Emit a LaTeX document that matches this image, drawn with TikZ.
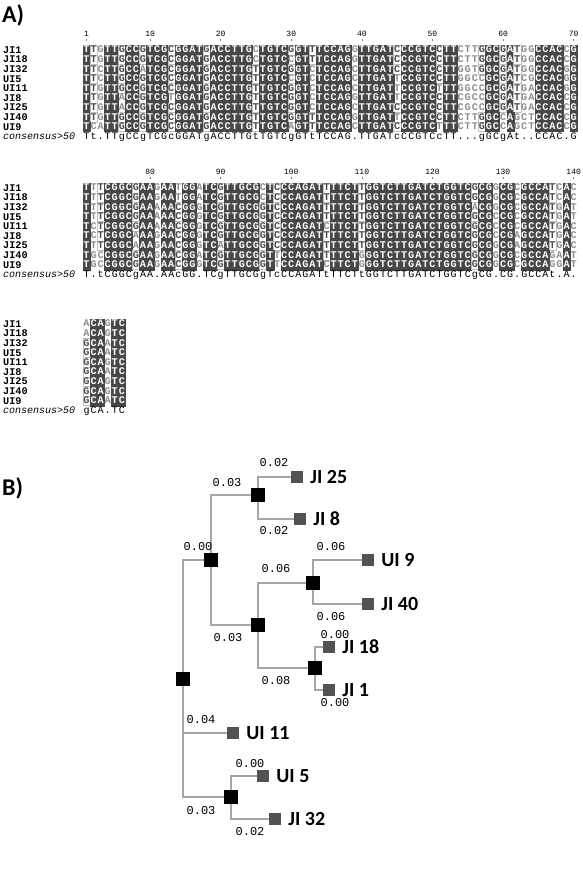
\documentclass[tikz,border=0pt]{standalone}
\usepackage{fontspec}
\setmainfont{Carlito}
\setmonofont{Liberation Mono}
\usetikzlibrary{positioning}

\newcommand{\cellfont}{\ttfamily\bfseries\fontsize{10.2}{10}\selectfont}
\newcount\colno
\def\xzero{83}
\def\cellw{7.06}

% one residue per cell, shaded against the consensus
\def\seqcells#1;#2#3\relax#4#5\relax{%
  \global\advance\colno by 1
  \uppercase{\def\consup{#4}}\def\consorig{#4}\def\resid{#2}%
  \ifx\resid\consup
    \ifx\consup\consorig\def\cellstyle{cellhi}\else\def\cellstyle{celllo}\fi
  \else\def\cellstyle{cellno}\fi
  \edef\next{\noexpand\node[\cellstyle] (c#1-\the\colno) at ({\xzero+(\the\colno-0.5)*\cellw},#1) {#2};}\next
  \ifx\relax#3\relax\else\seqcells#1;#3\relax#5\relax\fi}

\def\conscells#1;#2#3\relax{%
  \global\advance\colno by 1
  \edef\next{\noexpand\node[conschar] (k#1-\the\colno) at ({\xzero+(\the\colno-0.5)*\cellw},#1) {#2};}\next
  \ifx\relax#3\relax\else\conscells#1;#3\relax\fi}

\newcommand{\seqrow}[4]{%
  \node[rowname] (n#2-#1) at (3,#1) {#2};
  \global\colno=0
  \edef\next{\noexpand\seqcells#1;#3\relax#4\relax}\next}

\newcommand{\consrow}[2]{%
  \node[consname] (cons-#1) at (3,#1) {consensus>50};
  \global\colno=0
  \conscells#1;#2\relax}

\def\consA{Tt.TTgCCgTCGcGGATgACCTTGtTGTCgGTtTCCAG.TTGATcCCGTCcTT...gGCgAt..CCAC.G}
\def\consB{T.tCGGCgAA.AAcGG.TCgTTGCGgTcCCAGATtTTCTtGGTCTTGATCTGGTCgCG.CG.GCCAt.A.}
\def\consC{gCA.TC}

\begin{document}
\begin{tikzpicture}[x=1pt,y=-1pt,
  cellbase/.style={minimum width=7.06pt,minimum height=9.6pt,inner sep=0pt,
    text height=6.4pt,text depth=0.6pt,font=\cellfont},
  cellhi/.style={cellbase,fill=black!72,draw=black!72,line width=0.2pt,text=white},
  celllo/.style={cellbase,fill=white,draw=black!25,line width=0.4pt,text=black!70},
  cellno/.style={cellbase,text=black!45},
  conschar/.style={minimum width=7.06pt,minimum height=9.6pt,inner sep=0pt,
    text height=6.4pt,text depth=0.6pt,font=\ttfamily\fontsize{10}{10}\selectfont},
  rowname/.style={anchor=west,inner sep=0pt,font=\ttfamily\bfseries\fontsize{10.2}{10}\selectfont},
  consname/.style={anchor=west,inner sep=0pt,font=\ttfamily\itshape\fontsize{10}{10}\selectfont},
  colnum/.style={inner sep=0pt,font=\ttfamily\fontsize{8}{8}\selectfont},
  panel/.style={anchor=west,inner sep=0pt,font=\bfseries\fontsize{24}{24}\selectfont},
  innode/.style={fill=black,minimum size=14pt,inner sep=0pt},
  leafnode/.style={fill=black!68,minimum size=12pt,inner sep=0pt},
  branch/.style={draw=black!35,line width=2.8pt},
  blen/.style={inner sep=0pt,font=\ttfamily\fontsize{12}{12}\selectfont},
  taxon/.style={inner sep=0pt,font=\bfseries\fontsize{20}{20}\selectfont}]

\useasboundingbox (0,0) rectangle (582,869);

% A) alignment
\node[panel] (pA) at (2,15) {A)};

% block 1
\foreach \n/\c in {1/1,10/10,20/20,30/30,40/40,50/50,60/60,70/70}{
  \node[colnum] (h\n) at ({\xzero+(\c-0.5)*\cellw},34) {\n};
  \draw[black!50] (h\n.south) ++(0,2) -- ++(0,2);
}
\seqrow{50}{JI1}{TTGTTGCCGTCGCGGATGACCTTGCTGTCGGTTTCCAGGTTGATCCCGTCCTTCTTGGCGATGGCCACCG}{\consA}
\seqrow{59.6}{JI18}{TTGTTGCCGTCGCGGATGACCTTGCTGTCCGTTTCCAGGTTGATCCCGTCCTTCTTGGCGATGGCCACCG}{\consA}
\seqrow{69.2}{JI32}{TTCTTGCCATCGCGGATGACCTTGTTGTCGGTCTCCAGCTTGATCCCGTCCTTGGTGGCGATGGCCACGG}{\consA}
\seqrow{78.8}{UI5}{TTCTTGCCGTCGCGGATGACCTTGTTGTCCGTCTCCAGCTTGATTCCGTCCTTGGCCGCGATCGCCACGG}{\consA}
\seqrow{88.4}{UI11}{TTGTTGCCGTCGCGGATGACCTTGTTGTCGGTCTCCAGCTTGATTCCGTCTTTGGCCGCGATGACCACGG}{\consA}
\seqrow{98}{JI8}{TTGTTACCGTCGTGGATGACCTTGTTGTCGGTCTCCAGGTTGATTCCGTCCTTCGCCGCGATGACCACCG}{\consA}
\seqrow{107.6}{JI25}{TTGTTACCGTCGCGGATGACCTTGTTGTCGGTCTCCAGCTTGATCCCGTCCTTCGCCGCGATGACCACCG}{\consA}
\seqrow{117.2}{JI40}{TTGTTGCCGTCGCGGATGACCTTGTTGTCGGTTTCCAGGTTGATTCCGTCCTTCTTGGCCAGCTCCACCG}{\consA}
\seqrow{126.8}{UI9}{TCATTGCCGTCGCGGATGACCTTGTTGTCAGTTTCCAGCTTGATCCCGTCTTTCTTGGCCAGCTCCACCG}{\consA}
\consrow{136.4}{Tt.TTgCCgTCGcGGATgACCTTGtTGTCgGTtTCCAG.TTGATcCCGTCcTT...gGCgAt..CCAC.G}

% block 2
\foreach \n/\c in {80/10,90/20,100/30,110/40,120/50,130/60,140/70}{
  \node[colnum] (h\n) at ({\xzero+(\c-0.5)*\cellw},172) {\n};
  \draw[black!50] (h\n.south) ++(0,2) -- ++(0,2);
}
\seqrow{188}{JI1}{TTTCGGCGAAGAATGGATCGTTGCGCTCCCAGATTTTCTTGGTCTTGATCTGGTCGCGGCGCGCCATCAC}{\consB}
\seqrow{197.6}{JI18}{TTTCGGCGAAGAATGGATCGTTGCGCTCCCAGATTTTCTTGGTCTTGATCTGGTCGCGGCGCGCCATCAC}{\consB}
\seqrow{207.2}{JI32}{TTTCGGCGAAAAACGGGTCGTTGCGGTCCCAGATTTTCTTGGTCTTGATCTGGTCACGGCGCGCCATGAT}{\consB}
\seqrow{216.8}{UI5}{TTTCGGCGAAAAACGGGTCGTTGCGGTCCCAGATTTTCTTGGTCTTGATCTGGTCGCGCCGCGCCATGAT}{\consB}
\seqrow{226.4}{UI11}{TCTCGGCGAAAAACGGGTCGTTGCGGTCCCAGATCTTCTTGGTCTTGATCTGGTCGCGCCGCGCCATGAC}{\consB}
\seqrow{236}{JI8}{TCTCGGCAAAGAACGGGTCGTTGCGGTCCCAGATTTTCTTGGTCTTGATCTGGTCGCGCCGAGCCATGAC}{\consB}
\seqrow{245.6}{JI25}{TTTCGGCAAAGAACGGGTCATTGCGGTCCCAGATTTTCTTGGTCTTGATCTGGTCGCGGCGAGCCATGAC}{\consB}
\seqrow{255.2}{JI40}{TGCCGGCGAAGAACGGATCGTTGCGGTTCCAGATTTTCTGGGTCTTGATCTGGTCGCGGCGCGCCAGAAT}{\consB}
\seqrow{264.8}{UI9}{TGCCGGCGAAGAACGGGTCGTTGCGGTTCCAGATCTTCTGGGTCTTGATCTGGTCGCGGCGCGCCAGGAT}{\consB}
\consrow{274.4}{T.tCGGCgAA.AAcGG.TCgTTGCGgTcCCAGATtTTCTtGGTCTTGATCTGGTCgCG.CG.GCCAt.A.}

% block 3
\seqrow{324}{JI1}{ACAGTC}{\consC}
\seqrow{333.6}{JI18}{ACAGTC}{\consC}
\seqrow{343.2}{JI32}{GCAATC}{\consC}
\seqrow{352.8}{UI5}{GCAATC}{\consC}
\seqrow{362.4}{UI11}{GCAGTC}{\consC}
\seqrow{372}{JI8}{GCAATC}{\consC}
\seqrow{381.6}{JI25}{GCAGTC}{\consC}
\seqrow{391.2}{JI40}{GCAGTC}{\consC}
\seqrow{400.8}{UI9}{GCAATC}{\consC}
\consrow{410.4}{gCA.TC}

% B) tree
\node[panel] (pB) at (2,488) {B)};

\node[innode] (root) at (183,679) {};
\node[innode] (nA) at (211,560) {};
\node[innode] (nB) at (258,495) {};
\node[innode] (nC) at (258,625) {};
\node[innode] (nD) at (313,583) {};
\node[innode] (nE) at (315,668) {};
\node[innode] (nF) at (231,797) {};

\node[leafnode] (ji25) at (297,477) {};
\node[leafnode] (ji8) at (300,519) {};
\node[leafnode] (ui9) at (368,560) {};
\node[leafnode] (ji40) at (368,604) {};
\node[leafnode] (ji18) at (329,647) {};
\node[leafnode] (ji1) at (329,690) {};
\node[leafnode] (ui11) at (233,733) {};
\node[leafnode] (ui5) at (263,776) {};
\node[leafnode] (ji32) at (275,819) {};

\node[taxon, right=7pt of ji25] (tji25) {JI 25};
\node[taxon, right=7pt of ji8] (tji8) {JI 8};
\node[taxon, right=7pt of ui9] (tui9) {UI 9};
\node[taxon, right=7pt of ji40] (tji40) {JI 40};
\node[taxon, right=7pt of ji18] (tji18) {JI 18};
\node[taxon, right=7pt of ji1] (tji1) {JI 1};
\node[taxon, right=7pt of ui11] (tui11) {UI 11};
\node[taxon, right=7pt of ui5] (tui5) {UI 5};
\node[taxon, right=7pt of ji32] (tji32) {JI 32};

% branches
\draw[branch] (root) |- (nA);
\draw[branch] (root) |- (ui11);
\draw[branch] (root) |- (nF);
\draw[branch] (nA) |- (nB);
\draw[branch] (nA) |- (nC);
\draw[branch] (nB) |- (ji25);
\draw[branch] (nB) |- (ji8);
\draw[branch] (nC) |- (nD);
\draw[branch] (nC) |- (nE);
\draw[branch] (nD) |- (ui9);
\draw[branch] (nD) |- (ji40);
\draw[branch] (nE) |- (ji18);
\draw[branch] (nE) |- (ji1);
\draw[branch] (nF) |- (ui5);
\draw[branch] (nF) |- (ji32);

% branch lengths
\node[blen] (lA) at (198,547) {0.00};
\node[blen] (lB) at (227,483) {0.03};
\node[blen] (lji25) at (274,463) {0.02};
\node[blen] (lji8) at (274,531) {0.02};
\node[blen] (lC) at (228,638) {0.03};
\node[blen] (lD) at (276,569) {0.06};
\node[blen] (lui9) at (331,547) {0.06};
\node[blen] (lji40) at (331,617) {0.06};
\node[blen] (lE) at (276,681) {0.08};
\node[blen] (lji18) at (335,635) {0.00};
\node[blen] (lji1) at (335,703) {0.00};
\node[blen] (lui11) at (201,720) {0.04};
\node[blen] (lF) at (201,811) {0.03};
\node[blen] (lui5) at (250,764) {0.00};
\node[blen] (lji32) at (250,832) {0.02};

\end{tikzpicture}
\end{document}
